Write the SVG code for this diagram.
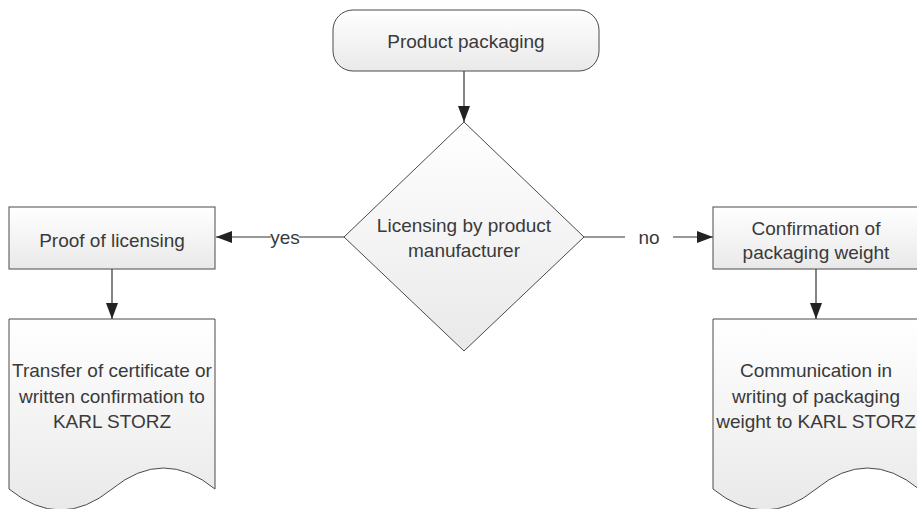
<svg xmlns="http://www.w3.org/2000/svg" width="917" height="509" viewBox="0 0 917 509">
  <style>
    .shape { fill: url(#g); stroke: #4a4a4a; stroke-width: 1; }
    .lbl { font-family: "Liberation Sans", Arial, sans-serif; font-size: 19px; fill: #3a3a3a; text-anchor: middle; }
    .conn { fill: none; stroke: #333; stroke-width: 1.2; marker-end: url(#arr); }
  </style>
  <defs>
    <linearGradient id="g" x1="0" y1="0" x2="0" y2="1">
      <stop offset="0" stop-color="#ffffff"/>
      <stop offset="1" stop-color="#e9e9e9"/>
    </linearGradient>
    <marker id="arr" markerWidth="16" markerHeight="12" refX="16" refY="6" orient="auto" markerUnits="userSpaceOnUse">
      <path d="M0,0 L16,6 L0,12 Z" fill="#222"/>
    </marker>
  </defs>
  <rect width="917" height="509" fill="#ffffff"/>

  <g id="connectors">
    <path class="conn" d="M464,71 V122"/>
    <path class="conn" d="M344,237 H299 M271,237 H216"/>
    <path class="conn" d="M584,237 H625 M673,237 H713"/>
    <path class="conn" d="M112,269 V319"/>
    <path class="conn" d="M816,269 V319"/>
    <text class="lbl" x="285" y="244">yes</text>
    <text class="lbl" x="649" y="244">no</text>
  </g>

  <g id="start">
    <rect class="shape" x="333" y="10" width="266" height="61" rx="20" ry="20"/>
    <text class="lbl" x="466" y="48">Product packaging</text>
  </g>

  <g id="decision">
    <polygon class="shape" points="464,122 584,237 464,351 344,237"/>
    <text class="lbl" x="464" y="232">Licensing by product</text>
    <text class="lbl" x="464" y="257">manufacturer</text>
  </g>

  <g id="proof">
    <rect class="shape" x="9" y="207" width="206" height="62"/>
    <text class="lbl" x="112" y="247">Proof of licensing</text>
  </g>

  <g id="confirmation">
    <rect class="shape" x="713" y="207" width="206" height="62"/>
    <text class="lbl" x="816" y="235">Confirmation of</text>
    <text class="lbl" x="816" y="259">packaging weight</text>
  </g>

  <g id="transfer">
    <path class="shape" d="M9,319 H215 V489 Q163.5,447 112,489 Q60.5,531 9,489 Z"/>
    <text class="lbl" x="112" y="377">Transfer of certificate or</text>
    <text class="lbl" x="112" y="403">written confirmation to</text>
    <text class="lbl" x="112" y="428">KARL STORZ</text>
  </g>

  <g id="communication">
    <path class="shape" d="M713,319 H919 V489 Q867.5,447 816,489 Q764.5,531 713,489 Z"/>
    <text class="lbl" x="816" y="377">Communication in</text>
    <text class="lbl" x="816" y="403">writing of packaging</text>
    <text class="lbl" x="816" y="428">weight to KARL STORZ</text>
  </g>
</svg>
